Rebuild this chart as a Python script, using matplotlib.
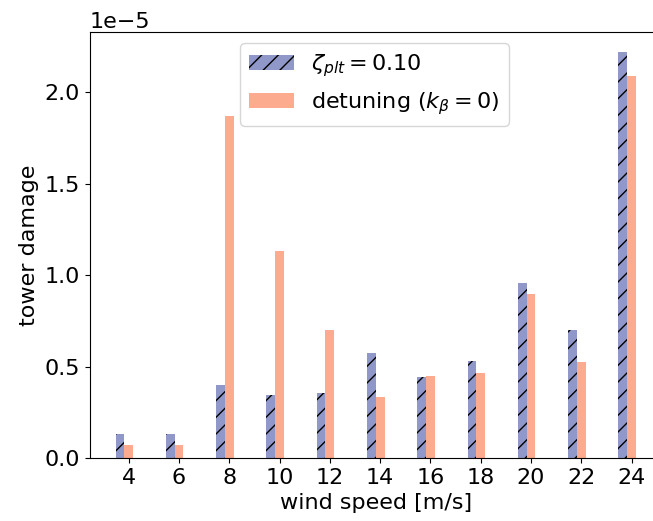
import matplotlib
matplotlib.use("Agg")
import matplotlib.pyplot as plt
import numpy as np

wind_speed = [4, 6, 8, 10, 12, 14, 16, 18, 20, 22, 24]
damage_zeta = [0.13, 0.13, 0.40, 0.344, 0.355, 0.574, 0.441, 0.53, 0.956, 0.70, 2.22]
damage_detune = [0.069, 0.069, 1.87, 1.13, 0.70, 0.333, 0.446, 0.464, 0.90, 0.528, 2.09]
scale = 1e-5

plt.rcParams['hatch.color'] = 'black'
plt.rcParams['font.size'] = 16

fig = plt.figure(figsize=(6.53, 5.21), dpi=100)
ax = fig.add_axes([89.5/653, 1 - 458/521, (662-89.5)/653, (458-32)/521])

w = 0.35
x = np.array(wind_speed, dtype=float)
ax.bar(x - w, np.array(damage_zeta) * scale, width=w, color='#8f98c9',
       hatch='//', edgecolor='black', linewidth=0, label=r'$\zeta_{plt} = 0.10$')
ax.bar(x, np.array(damage_detune) * scale, width=w, color='#fdab8e',
       linewidth=0, label=r'detuning ($k_\beta = 0$)')

ax.set_xticks(wind_speed)
ax.set_xlabel('wind speed [m/s]')
ax.set_ylabel('tower damage')
ax.legend(loc='upper center', bbox_to_anchor=(0.498, 1.0))

fig.savefig('out.png', dpi=100)
